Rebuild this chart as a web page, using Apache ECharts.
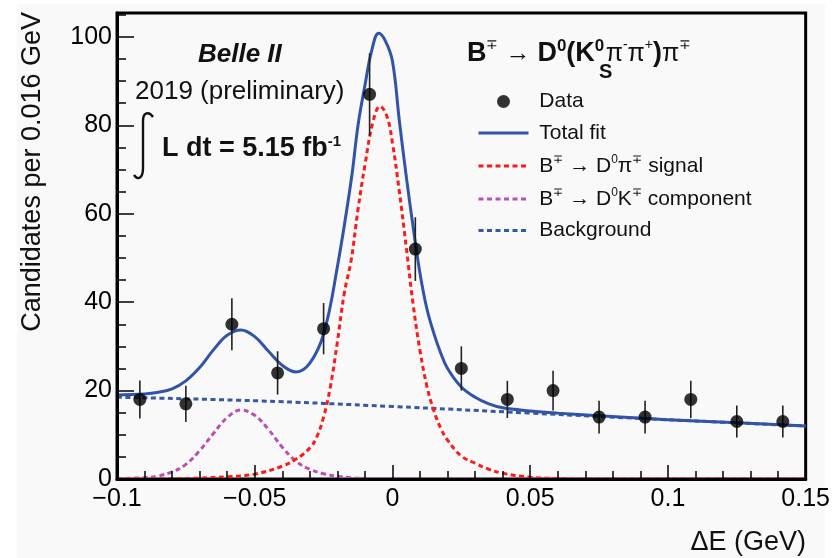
<!DOCTYPE html>
<html>
<head>
<meta charset="utf-8">
<script src="https://cdn.jsdelivr.net/npm/echarts@6/dist/echarts.min.js"></script>
<style>
  body { margin: 0; background: #fff; }
  #bg { position: absolute; left: 17px; top: 4px; width: 808px; height: 554px; background: #f9f9f9; }
  #chart { position: absolute; left: 0; top: 0; width: 833px; height: 558px; }
</style>
</head>
<body>
<div id="bg"></div>
<div id="chart"></div>
<script>
// data points (bin centres, 0.0167 GeV bins)
var binX = [-0.0917, -0.075, -0.0583, -0.0417, -0.025, -0.0083, 0.0083, 0.025, 0.0417, 0.0583, 0.075, 0.0917, 0.1083, 0.125, 0.1417];
var counts = [18, 17, 35, 24, 34, 87, 52, 25, 18, 20, 14, 14, 18, 13, 13];
var errs = [4.3, 4.1, 5.9, 4.9, 5.8, 9.3, 7.2, 5.0, 4.2, 4.5, 3.7, 3.7, 4.2, 3.6, 3.6];

// fit curves
var totX = [-0.1, -0.09, -0.085, -0.08, -0.075, -0.07, -0.065, -0.06, -0.055, -0.05, -0.045, -0.04, -0.035, -0.03, -0.025, -0.02, -0.015, -0.0125, -0.01, -0.0075, -0.005, -0.0025, 0, 0.0025, 0.005, 0.0075, 0.01, 0.0125, 0.015, 0.0175, 0.02, 0.025, 0.03, 0.035, 0.04, 0.05, 0.06, 0.075, 0.1, 0.125, 0.15];
var totY = [19.0, 19.2, 19.6, 20.4, 22.2, 25.2, 29.2, 32.5, 33.7, 32.2, 28.9, 25.7, 24.2, 26.2, 32.8, 48, 67.5, 80, 89, 97, 100.8, 99, 94.5, 81, 68.5, 57, 46.5, 38.5, 33, 28.5, 25, 20.8, 18.5, 17, 16.1, 15.4, 14.9, 14.3, 13.4, 12.7, 12.0];

var sigX = [-0.1, -0.08, -0.07, -0.06, -0.05, -0.04, -0.035, -0.03, -0.0275, -0.025, -0.0225, -0.02, -0.0175, -0.015, -0.0125, -0.01, -0.007, -0.0045, -0.002, 0, 0.0025, 0.005, 0.0075, 0.01, 0.0125, 0.015, 0.0175, 0.02, 0.025, 0.03, 0.035, 0.04, 0.05, 0.06, 0.07, 0.15];
var sigY = [0, 0.05, 0.2, 0.5, 1.1, 2.9, 4.5, 7, 9.5, 14, 21, 31, 42, 49.5, 61, 71, 81, 84.3, 82, 76, 65, 52.5, 39.5, 29, 21, 15.5, 11.5, 8.8, 5.2, 3.6, 2.2, 1.3, 0.4, 0.1, 0, 0];

var dkX = [-0.1, -0.09, -0.085, -0.08, -0.075, -0.07, -0.065, -0.06, -0.055, -0.05, -0.045, -0.04, -0.035, -0.03, -0.025, -0.02, -0.015, -0.01, 0, 0.02, 0.15];
var dkY = [0.1, 0.3, 0.7, 1.6, 3.3, 6.4, 10.3, 13.9, 15.6, 14.4, 11.2, 7.2, 4.0, 2.2, 1.2, 0.6, 0.3, 0.15, 0.05, 0, 0];

var bkgX = [-0.1, -0.05, 0, 0.05, 0.1, 0.15];
var bkgY = [18.5, 17.7, 16.4, 14.9, 13.4, 12.0];

var xTicks = [-0.1, -0.05, 0, 0.05, 0.1, 0.15];

var FONT = "Liberation Sans";

function pairs(xs, ys) {
  return xs.map(function (x, i) { return [x, ys[i]]; });
}

var legendNames = {
  "Data": "{n| Data}",
  "Total fit": "{n| Total fit}",
  "Signal": "{n| B}{s|\u2213}{n| \u2192 D}{s|0}{n|\u03c0}{s|\u2213}{n| signal}",
  "DK": "{n| B}{s|\u2213}{n| \u2192 D}{s|0}{n|K}{s|\u2213}{n| component}",
  "Background": "{n| Background}"
};
var noDot = { color: "rgba(0,0,0,0)", borderWidth: 0 };

var chart = echarts.init(document.getElementById("chart"));
chart.setOption({
  backgroundColor: "transparent",
  animation: false,
  grid: {
    left: 117, right: 26, top: 13, bottom: 79,
    show: true, borderColor: "#000", borderWidth: 3, backgroundColor: "transparent"
  },
  xAxis: {
    type: "value", min: -0.1, max: 0.15, interval: 0.05, z: 5,
    axisLine: { onZero: false, lineStyle: { color: "#000", width: 3 } },
    axisTick: { inside: true, length: 14, lineStyle: { color: "#000", width: 1.5 } },
    minorTick: { show: true, splitNumber: 5, length: 8, lineStyle: { color: "#000", width: 1.5 } },
    splitLine: { show: false },
    axisLabel: {
      fontFamily: FONT, fontSize: 25, color: "#000", margin: 8,
      formatter: function (v) {
        var t = xTicks.filter(function (k) { return Math.abs(k - v) < 1e-6; })[0];
        if (t === undefined) return "";
        return String(t).replace("-", "\u2212");
      }
    }
  },
  yAxis: {
    type: "value", min: 0, max: 105.4, interval: 20, z: 5,
    axisLine: { onZero: false, lineStyle: { color: "#000", width: 3 } },
    axisTick: { inside: true, length: 17, lineStyle: { color: "#000", width: 1.5 } },
    minorTick: { show: true, splitNumber: 4, length: 9, lineStyle: { color: "#000", width: 1.5 } },
    splitLine: { show: false },
    axisLabel: {
      fontFamily: FONT, fontSize: 25, color: "#000", margin: 5, showMaxLabel: false,
      formatter: function (v) { return v % 20 === 0 ? String(v) : ""; }
    }
  },
  legend: {
    orient: "vertical", left: 477, top: 91, padding: 0,
    itemWidth: 50, itemHeight: 13, itemGap: 10.5, selectedMode: false,
    data: [
      { name: "Data", icon: "circle" },
      { name: "Total fit", itemStyle: noDot },
      { name: "Signal", itemStyle: noDot },
      { name: "DK", itemStyle: noDot },
      { name: "Background", itemStyle: noDot }
    ],
    lineStyle: { width: 3 },
    formatter: function (name) { return legendNames[name]; },
    textStyle: {
      fontFamily: FONT, fontSize: 21, color: "#111",
      rich: {
        n: { fontFamily: FONT, fontSize: 21, color: "#111", lineHeight: 24 },
        s: { fontFamily: FONT, fontSize: 12, color: "#111", lineHeight: 14, verticalAlign: "top" }
      }
    }
  },
  graphic: [
    {
      type: "text", x: 33, y: 12, rotation: Math.PI / 2,
      style: { text: "Candidates per 0.016 GeV", font: "27px " + FONT, fill: "#111", align: "right", verticalAlign: "middle" }
    },
    {
      type: "text", x: 806, y: 543,
      style: { text: "\u0394E (GeV)", font: "27px " + FONT, fill: "#111", align: "right", verticalAlign: "middle" }
    },
    {
      type: "text", x: 198, y: 55,
      style: { text: "Belle II", font: "italic bold 26px " + FONT, fill: "#111", verticalAlign: "middle" }
    },
    {
      type: "text", x: 135, y: 92,
      style: { text: "2019 (preliminary)", font: "26px " + FONT, fill: "#111", verticalAlign: "middle" }
    },
    // integral sign
    {
      type: "bezierCurve",
      shape: { x1: 153, y1: 117, cpx1: 149, cpy1: 111, cpx2: 143, cpy2: 112, x2: 143, y2: 121 },
      style: { fill: null, stroke: "#111", lineWidth: 2.4 }
    },
    {
      type: "line",
      shape: { x1: 143, y1: 121, x2: 143, y2: 168 },
      style: { stroke: "#111", lineWidth: 2.4 }
    },
    {
      type: "bezierCurve",
      shape: { x1: 143, y1: 168, cpx1: 143, cpy1: 178, cpx2: 138, cpy2: 181, x2: 134, y2: 175 },
      style: { fill: null, stroke: "#111", lineWidth: 2.4 }
    },
    {
      type: "text", x: 162, y: 149,
      style: {
        text: "{m|L dt = 5.15 fb}{s|-1}", verticalAlign: "middle",
        rich: {
          m: { font: "bold 27px " + FONT, fill: "#111", lineHeight: 30 },
          s: { font: "bold 15px " + FONT, fill: "#111", lineHeight: 14, verticalAlign: "top" }
        }
      }
    },
    {
      type: "text", x: 467, y: 54,
      style: {
        text: "{b|B}{s|\u2213}{n| \u2192 }{b|D}{sb|0}{b|(K}{sb|0}{g| }{n|\u03c0}{s|-}{n|\u03c0}{s|+}{b|)}{n|\u03c0}{s|\u2213}",
        verticalAlign: "middle",
        rich: {
          b: { font: "bold 27px " + FONT, fill: "#111", lineHeight: 32 },
          n: { font: "25px " + FONT, fill: "#111", lineHeight: 32 },
          sb: { font: "bold 17px " + FONT, fill: "#111", lineHeight: 12, verticalAlign: "top" },
          s: { font: "14px " + FONT, fill: "#111", lineHeight: 12, verticalAlign: "top" },
          g: { font: "bold 5px " + FONT, lineHeight: 10 }
        }
      }
    },
    {
      type: "text", x: 599, y: 72,
      style: { text: "S", font: "bold 20px " + FONT, fill: "#111", verticalAlign: "middle" }
    }
  ],
  series: [
    {
      name: "Background", type: "line", data: pairs(bkgX, bkgY), smooth: 0.4, symbol: "none",
      lineStyle: { color: "#3558a8", width: 3, type: [5, 3.5] }, itemStyle: { color: "#3558a8" }, z: 2
    },
    {
      name: "DK", type: "line", data: pairs(dkX, dkY), smooth: 0.4, symbol: "none",
      lineStyle: { color: "#bb4fb3", width: 3, type: [5, 3.5] }, itemStyle: { color: "#bb4fb3" }, z: 2
    },
    {
      name: "Signal", type: "line", data: pairs(sigX, sigY), smooth: 0.4, symbol: "none",
      lineStyle: { color: "#ff1a1a", width: 3, type: [5, 3.5] }, itemStyle: { color: "#ff1a1a" }, z: 2
    },
    {
      name: "Total fit", type: "line", data: pairs(totX, totY), smooth: 0.4, symbol: "none",
      lineStyle: { color: "#3254a8", width: 3 }, itemStyle: { color: "#3254a8" }, z: 3
    },
    {
      name: "errors", type: "custom", z: 4,
      data: binX.map(function (x, i) { return [x, counts[i], errs[i]]; }),
      encode: { x: 0, y: 1 },
      renderItem: function (params, api) {
        var x = api.value(0), y = api.value(1), e = api.value(2);
        var lo = api.coord([x, y - e]);
        var hi = api.coord([x, y + e]);
        return {
          type: "line",
          shape: { x1: lo[0], y1: lo[1], x2: hi[0], y2: hi[1] },
          style: { stroke: "#222", lineWidth: 1.6 }
        };
      }
    },
    {
      name: "Data", type: "scatter", data: pairs(binX, counts), symbolSize: 13, z: 6,
      itemStyle: { color: "#000" }
    }
  ]
});
</script>
</body>
</html>
